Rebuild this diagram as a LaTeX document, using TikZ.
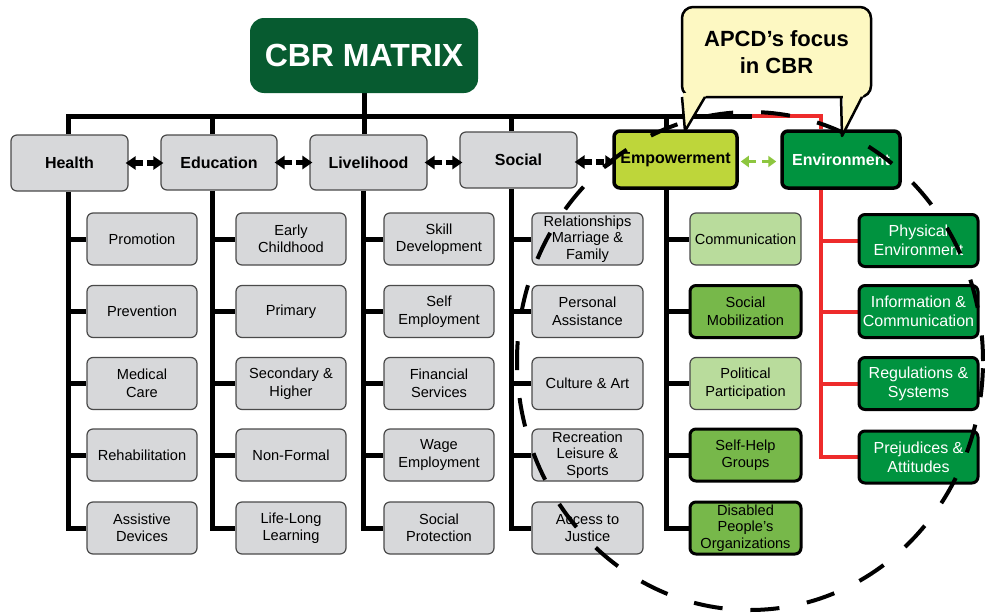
\documentclass[tikz,border=0pt]{standalone}
\usepackage{fontspec}
\setmainfont{Liberation Sans}
\usetikzlibrary{arrows.meta,backgrounds}

\definecolor{cbrdark}{HTML}{075B30}
\definecolor{boxgrey}{HTML}{D7D8DA}
\definecolor{edgegrey}{HTML}{4A4A4A}
\definecolor{empyellow}{HTML}{BED63A}
\definecolor{envgreen}{HTML}{00933F}
\definecolor{palegreen}{HTML}{B9DC9C}
\definecolor{midgreen}{HTML}{77B84A}
\definecolor{calloutfill}{HTML}{FDF8C2}
\definecolor{linkred}{HTML}{EE2B2B}
\definecolor{linkgreen}{HTML}{8DC63F}

\begin{document}
\begin{tikzpicture}[x=1pt,y=-1pt,
  every node/.style={inner sep=0pt, align=center},
  titlebox/.style={fill=cbrdark, rounded corners=14pt, minimum width=228pt, minimum height=75pt,
    text=white, font=\fontsize{32}{38}\selectfont\bfseries},
  hdr/.style={draw=edgegrey, line width=1.2pt, fill=boxgrey, rounded corners=6pt,
    minimum width=117pt, minimum height=56pt, text=black, font=\fontsize{16}{19}\selectfont\bfseries},
  hdrstrong/.style={hdr, draw=black, line width=3.5pt, minimum height=57pt},
  sub/.style={draw=edgegrey, line width=1.2pt, fill=boxgrey, rounded corners=6pt,
    minimum width=110pt, minimum height=52pt, text=black, font=\fontsize{14.6}{17.5}\selectfont},
  tri/.style={font=\fontsize{14.6}{16.3}\selectfont},
  esoft/.style={sub, fill=palegreen, minimum width=111pt},
  estrong/.style={sub, draw=black, line width=3pt, fill=midgreen, minimum width=111pt},
  vsub/.style={sub, draw=black, line width=3pt, fill=envgreen, text=white,
    minimum width=119pt, font=\fontsize{16}{19}\selectfont},
  callout/.style={draw=black, line width=2.5pt, fill=calloutfill, rounded corners=11pt,
    minimum width=189pt, minimum height=90pt, font=\fontsize{22}{27}\selectfont\bfseries},
  trunk/.style={draw=black, line width=5pt},
  redline/.style={draw=linkred, line width=4pt},
  dblarrow/.style={draw=black, line width=5.5pt, dash pattern=on 8pt off 4pt,
    shorten <=-3pt, shorten >=-3pt,
    {Triangle[length=10pt,width=13pt]}-{Triangle[length=10pt,width=13pt]}},
  grnarrow/.style={draw=linkgreen, line width=3.5pt, dash pattern=on 8pt off 6pt,
    shorten <=2pt, shorten >=4pt,
    {Triangle[length=8pt,width=11pt]}-{Triangle[length=8pt,width=11pt]}},
  focusring/.style={draw=black, line width=4pt, dash pattern=on 29pt off 28pt, dash phase=3.4pt}
]
\useasboundingbox (0,0) rectangle (985,613);

% title and the six CBR components
\node[titlebox] (title) at (364,55.5) {CBR MATRIX};
\node[hdr] (health) at (69.5,163) {Health};
\node[hdr, minimum width=116pt, minimum height=55pt] (education) at (219,162.5) {Education};
\node[hdr, minimum height=55pt] (livelihood) at (368.5,162.5) {Livelihood};
\node[hdr] (social) at (518.5,160) {Social};
\node[hdrstrong, fill=empyellow, minimum width=123pt] (empower) at (675.5,159.5) {Empowerment};
\node[hdrstrong, fill=envgreen, text=white, minimum width=118pt] (environ) at (841,159.5) {Environment};

% Health
\node[sub] (h1) at (142,239)   {Promotion};
\node[sub] (h2) at (142,311.5) {Prevention};
\node[sub] (h3) at (142,383.5) {Medical\\Care};
\node[sub] (h4) at (142,455)   {Rehabilitation};
\node[sub] (h5) at (142,528)   {Assistive\\Devices};
% Education
\node[sub] (d1) at (291,239)   {Early\\Childhood};
\node[sub] (d2) at (291,311.5) {Primary};
\node[sub] (d3) at (291,383.5) {Secondary \&\\Higher};
\node[sub] (d4) at (291,455)   {Non-Formal};
\node[sub] (d5) at (291,528)   {Life-Long\\Learning};
% Livelihood
\node[sub] (l1) at (439,239)   {Skill\\Development};
\node[sub] (l2) at (439,311.5) {Self\\Employment};
\node[sub] (l3) at (439,383.5) {Financial\\Services};
\node[sub] (l4) at (439,455)   {Wage\\Employment};
\node[sub] (l5) at (439,528)   {Social\\Protection};
% Social
\node[sub, tri, minimum width=111pt] (s1) at (587.5,239)   {Relationships\\Marriage \&\\Family};
\node[sub, minimum width=111pt] (s2) at (587.5,311.5) {Personal\\Assistance};
\node[sub, minimum width=111pt] (s3) at (587.5,383.5) {Culture \& Art};
\node[sub, tri, minimum width=111pt] (s4) at (587.5,455)   {Recreation\\Leisure \&\\Sports};
\node[sub, minimum width=111pt] (s5) at (587.5,528)   {Access to\\Justice};
% Empowerment
\node[esoft]   (p1) at (745.5,239)   {Communication};
\node[estrong] (p2) at (745.5,311.5) {Social\\Mobilization};
\node[esoft]   (p3) at (745.5,383.5) {Political\\Participation};
\node[estrong] (p4) at (745.5,455)   {Self-Help\\Groups};
\node[estrong, tri] (p5) at (745.5,528) {Disabled\\People’s\\Organizations};
% Environment
\node[vsub] (v1) at (918.5,240.5) {Physical\\Environment};
\node[vsub] (v2) at (918.5,311.5) {Information \&\\Communication};
\node[vsub] (v3) at (918.5,383.5) {Regulations \&\\Systems};
\node[vsub] (v4) at (918.5,457)   {Prejudices \&\\Attitudes};

% trunk positions of the columns
\coordinate (bus) at (364,116);
\coordinate (busend) at (752,116);
\coordinate (ch) at (68,0);
\coordinate (cd) at (212,0);
\coordinate (cl) at (363,0);
\coordinate (cs) at (511,0);
\coordinate (cp) at (666,0);
\coordinate (cv) at (821,0);

\begin{pgfonlayer}{background}
  % top bus
  \draw[trunk] (ch |- health.north) |- (busend);
  \draw[trunk] (title.south) -- (title.south |- livelihood.north);
  \draw[trunk] (cd |- education.north) -- (cd |- bus);
  \draw[trunk] (cs |- social.north) -- (cs |- bus);
  \draw[trunk] (cp |- empower.north) -- (cp |- bus);
  \draw[redline] (busend) -| (cv |- environ.north);
  % column trunks and branches
  \draw[trunk] (ch |- health.south) |- (h5.west);
  \foreach \n in {h1,h2,h3,h4} \draw[trunk] (ch |- \n.west) -- (\n.west);
  \draw[trunk] (cd |- education.south) |- (d5.west);
  \foreach \n in {d1,d2,d3,d4} \draw[trunk] (cd |- \n.west) -- (\n.west);
  \draw[trunk] (cl |- livelihood.south) |- (l5.west);
  \foreach \n in {l1,l2,l3,l4} \draw[trunk] (cl |- \n.west) -- (\n.west);
  \draw[trunk] (cs |- social.south) |- (s5.west);
  \foreach \n in {s1,s2,s3,s4} \draw[trunk] (cs |- \n.west) -- (\n.west);
  \draw[trunk] (cp |- empower.south) |- (p5.west);
  \foreach \n in {p1,p2,p3,p4} \draw[trunk] (cp |- \n.west) -- (\n.west);
  \draw[redline] (cv |- environ.south) |- (v4.west);
  \foreach \n in {v1,v2,v3} \draw[redline] (cv |- \n.west) -- (\n.west);
\end{pgfonlayer}

% links between the components
\draw[dblarrow] (health.east) -- (health.east -| education.west);
\draw[dblarrow] (education.east) -- (education.east -| livelihood.west);
\draw[dblarrow] (livelihood.east) -- (livelihood.east -| social.west);
\draw[dblarrow] ([yshift=-2pt]social.east) -- ([yshift=-2pt]social.east -| empower.west);
\draw[grnarrow] ([yshift=-2pt]empower.east) -- ([yshift=-2pt]empower.east -| environ.west);

% speech bubble with two tails
\node[callout] (focus) at (776.5,52) {APCD’s focus\\in CBR};
\fill[calloutfill] (683.4,93) -- (683.4,97) -- (685,131) -- (705,97) -- (708,93) -- cycle;
\draw[line width=2.5pt, line join=round] (682,97) -- (685,131) -- (705,97);
\fill[calloutfill] (843,93) -- (843,97) -- (842,136) -- (862,97) -- (865,93) -- cycle;
\draw[line width=2.5pt, line join=round] (841,97) -- (842,136) -- (862,97);

% dashed ring around the focus area
\draw[focusring] (750,361) ellipse [x radius=233pt, y radius=249pt];
\end{tikzpicture}
\end{document}
